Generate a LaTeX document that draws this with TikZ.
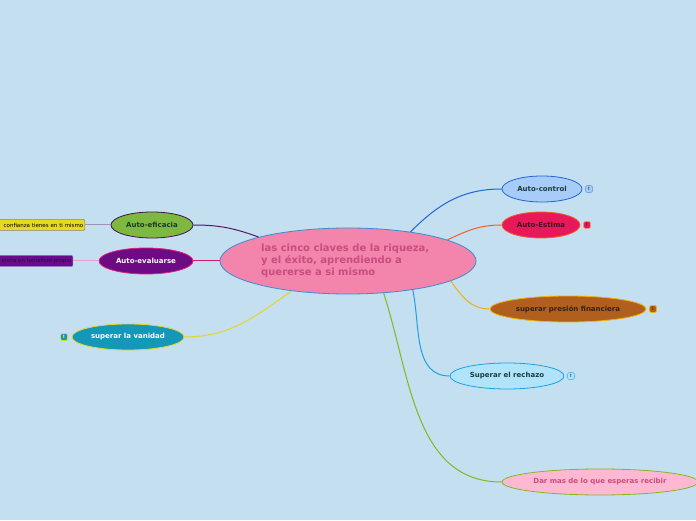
\documentclass[tikz,border=0pt]{standalone}
\usepackage{fontspec}
\setmainfont{DejaVu Sans}
\usetikzlibrary{shapes.geometric}
\definecolor{bg}{HTML}{C3DFF0}
\definecolor{cfill}{HTML}{F384AC}
\definecolor{cbord}{HTML}{3C8CD0}
\definecolor{ctext}{HTML}{C94C7F}
\definecolor{effill}{HTML}{7DB840}
\definecolor{efbord}{HTML}{4A1050}
\definecolor{eftext}{HTML}{1E3A20}
\definecolor{ybox}{HTML}{E6D91E}
\definecolor{yboxb}{HTML}{8A8A6A}
\definecolor{lpurp}{HTML}{A090C0}
\definecolor{dpurp}{HTML}{5A1468}
\definecolor{evfill}{HTML}{6E0A84}
\definecolor{evbord}{HTML}{E0207A}
\definecolor{pbox}{HTML}{6A0A8C}
\definecolor{pboxb}{HTML}{9A6ACA}
\definecolor{pboxt}{HTML}{2A1030}
\definecolor{lpink}{HTML}{E0A0D0}
\definecolor{crim}{HTML}{D81A6A}
\definecolor{vafill}{HTML}{1497B9}
\definecolor{yel}{HTML}{E6D428}
\definecolor{cofill}{HTML}{A8CCF8}
\definecolor{cobord}{HTML}{1F66D8}
\definecolor{darkt}{HTML}{1C3A40}
\definecolor{esfill}{HTML}{E8195A}
\definecolor{esbord}{HTML}{EE602A}
\definecolor{estext}{HTML}{3A1020}
\definecolor{prfill}{HTML}{B0601C}
\definecolor{prbord}{HTML}{F0B010}
\definecolor{prtext}{HTML}{3A2010}
\definecolor{refill}{HTML}{B0E4FA}
\definecolor{rebord}{HTML}{1EA0E6}
\definecolor{dafill}{HTML}{FFB8D2}
\definecolor{dabord}{HTML}{84B820}
\tikzset{
  topic/.style={ellipse, draw, line width=0.8pt, inner sep=0pt, minimum height=26pt,
    font=\fontsize{7}{8}\selectfont\bfseries},
  sidebox/.style={rectangle, rounded corners=1pt, draw, line width=0.5pt, inner xsep=1.5pt,
    inner ysep=0pt, minimum height=11pt, anchor=east, align=right, font=\fontsize{5.5}{6}\selectfont},
  badge/.style={rectangle, rounded corners=1.5pt, draw, line width=0.6pt, minimum size=7pt,
    inner sep=0pt, font=\fontsize{4.5}{5}\selectfont\bfseries},
  conn/.style={line width=1pt},
}
\begin{document}
\begin{tikzpicture}[x=1pt,y=1pt]
\fill[bg] (0,0) rectangle (696,520);
\useasboundingbox (0,0) rectangle (696,520);

\node[ellipse, draw=cbord, fill=cfill, line width=0.8pt, minimum width=256pt, minimum height=66pt, inner sep=0pt] (c) at (348,259) {};
\node[anchor=west, align=left, text=ctext, font=\fontsize{10}{12}\selectfont\bfseries, inner sep=0pt] (ct) at (261,259)
  {las cinco claves de la riqueza,\\y el éxito, aprendiendo a\\quererse a si mismo};

\node[topic, fill=effill, draw=efbord, minimum width=82pt, text=eftext] (ef) at (152,295) {Auto-eficacia};
\node[sidebox, fill=ybox, draw=yboxb, text width=88pt] (yb) at (85,295) {confianza tienes en ti mismo};

\node[topic, fill=evfill, draw=evbord, minimum width=94pt, text=white] (ev) at (146,259) {Auto-evaluarse};
\node[sidebox, fill=pbox, draw=pboxb, text=pboxt, text width=76pt] (pb) at (73,259) {encia en beneficio propio};

\node[topic, fill=vafill, draw=yel, minimum width=112pt, text=white] (va) at (128,183) {superar la vanidad};
\node[badge, fill=vafill, draw=yel, text=white] (vab) at (64,183) {!};

\node[topic, fill=cofill, draw=cobord, minimum width=80pt, text=darkt] (co) at (542,331) {Auto-control};
\node[badge, fill=cofill, draw=cobord!60, text=darkt] (cob) at (589,331) {!};

\node[topic, fill=esfill, draw=esbord, minimum width=78pt, text=estext] (es) at (541,295) {Auto-Estima};
\node[badge, fill=esfill, draw=esbord!70, text=estext] (esb) at (587,295) {!};

\node[topic, fill=prfill, draw=prbord, minimum width=156pt, text=prtext] (pr) at (568,211) {superar presión financiera};
\node[badge, fill=prfill, draw=prbord, text=prtext] (prb) at (653,211) {!};

\node[topic, fill=refill, draw=rebord, minimum width=114pt, text=darkt] (re) at (507,144) {Superar el rechazo};
\node[badge, fill=refill, draw=rebord!70, text=darkt] (reb) at (571,144) {!};

\node[topic, fill=dafill, draw=dabord, minimum width=196pt, text=ctext] (da) at (600,38) {Dar mas de lo que esperas recibir};

% connectors
\draw[conn, lpurp] (yb.east) -- (ef.west);
\draw[conn, dpurp] (c.165) to[out=160, in=0] (ef.east);
\draw[conn, lpink] (pb.east) -- (ev.west);
\draw[conn, crim] (c.west) -- (ev.east);
\draw[conn, yel] (c.208) to[out=215, in=0] (va.east);
\draw[conn, cobord] (c.25) to[out=45, in=180] (co.west);
\draw[conn, esbord] (c.12) to[out=25, in=180] (es.west);
\draw[conn, prbord] (c.-11) to[out=-55, in=180] (pr.west);
\draw[conn, rebord] (c.-24) to[out=-78, in=180] (re.west);
\draw[conn, dabord] (c.-42) to[out=-72, in=180] (da.west);
\end{tikzpicture}
\end{document}
